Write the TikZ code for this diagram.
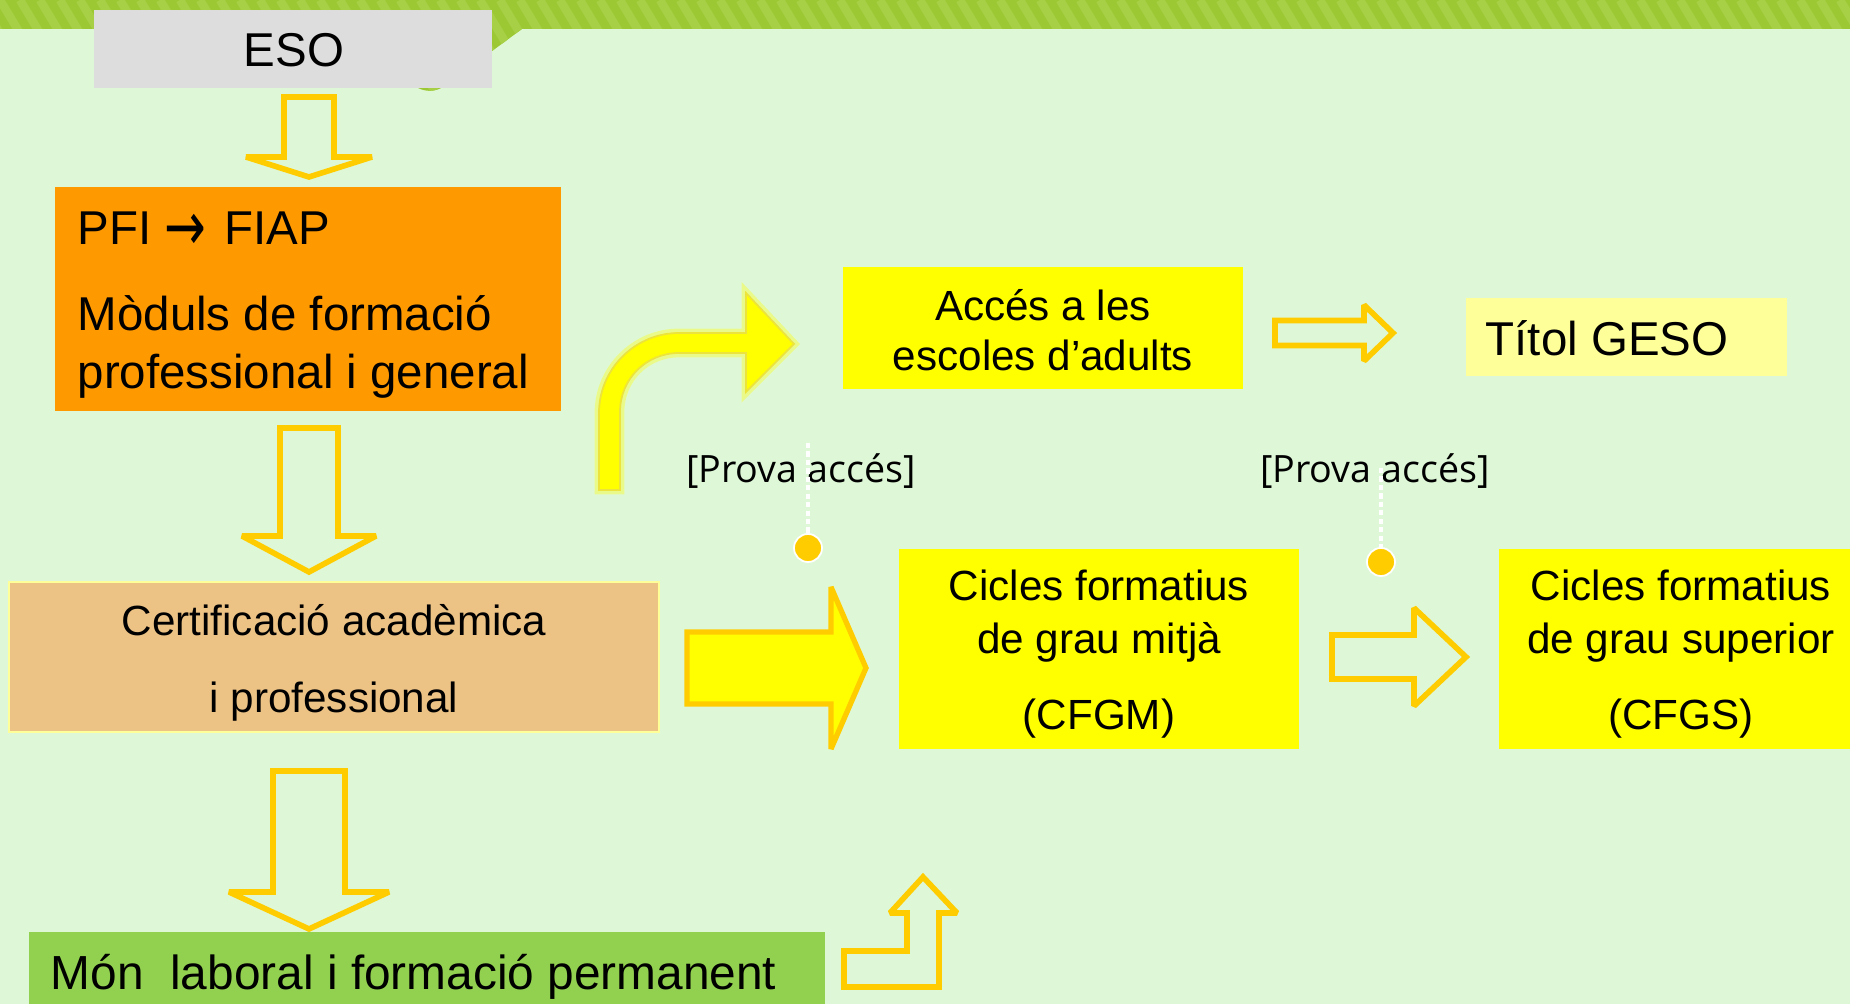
\documentclass[tikz,border=0pt]{standalone}
\usepackage{graphicx}
\usepackage{fontspec}
\setmainfont{Liberation Sans}
\newfontfamily\provafont{Open Sans}
\newfontfamily\symfont{DejaVu Sans}
\usetikzlibrary{calc, positioning}
\definecolor{fons}{RGB}{222,248,215}
\definecolor{bandfosc}{RGB}{156,200,52}
\definecolor{bandclar}{RGB}{168,208,70}
\definecolor{esogris}{RGB}{221,221,221}
\definecolor{taronja}{RGB}{255,153,0}
\definecolor{certcol}{RGB}{236,194,133}
\definecolor{certvora}{RGB}{255,255,153}
\definecolor{groc}{RGB}{255,255,0}
\definecolor{grocclar}{RGB}{255,255,153}
\definecolor{daurat}{RGB}{255,204,0}
\definecolor{verd}{RGB}{146,208,80}
\newcommand{\grantxt}{\fontsize{13.5}{16.5}\selectfont}
\newcommand{\mitjatxt}{\fontsize{12}{15.1}\selectfont}
\newcommand{\fletxa}{{\symfont\raisebox{-0.12em}{\scalebox{1.05}[1.45]{→}}}}
\newcommand{\downblock}[7]{\draw[#1] (#2-#6,#3) -- (#2+#6,#3) -- (#2+#6,#4) -- (#2+#7,#4) -- (#2,#5) -- (#2-#7,#4) -- (#2-#6,#4) -- cycle;}
\newcommand{\rightblock}[7]{\draw[#1] (#3,#2-#6) -- (#4,#2-#6) -- (#4,#2-#7) -- (#5,#2) -- (#4,#2+#7) -- (#4,#2+#6) -- (#3,#2+#6) -- cycle;}
\tikzset{
	box/.style={rectangle, inner sep=0pt},
	txt/.style={inner sep=0pt, align=center},
	hollow/.style={draw=daurat, line width=1.6pt, miter limit=2, fill=fons},
	plena/.style={draw=daurat, line width=1.5pt, miter limit=3, fill=groc},
	prova/.style={inner sep=0pt, font=\provafont\fontsize{10.7}{12}\selectfont},
	gota/.style={circle, fill=daurat, draw=white, line width=0.5pt, minimum size=0.28cm, inner sep=0pt},
	puntejat/.style={white, line width=1.1pt, dash pattern=on 1.5pt off 0.9pt}
}
\begin{document}
\begin{tikzpicture}[x=0.01cm, y=-0.01cm]
	\useasboundingbox (0,0) rectangle (1850,1004);
	\clip (0,0) rectangle (1850,1004);
	\fill[fons] (0,0) rectangle (1850,1004);
	\begin{scope}
		\clip (0,0) rectangle (1850,29) (418,29) -- (522,29) -- (446,85) .. controls (438,91) and (428,93) .. (418,88) -- cycle;
		\fill[bandfosc] (0,0) rectangle (1850,100);
		\foreach \s in {-100,-80,...,1860} {
			\draw[bandclar, line width=2.4pt] (\s,0) -- (\s+60,100);
		}
	\end{scope}

	\node[box, fill=esogris, minimum width=3.98cm, minimum height=0.78cm] (eso) at (293,49) {};
	\node[box, fill=taronja, minimum width=5.06cm, minimum height=2.24cm] (pfi) at (308,299) {};
	\node[box, fill=certcol, draw=certvora, line width=0.6pt, minimum width=6.5cm, minimum height=1.5cm] (cert) at (334,657) {};
	\node[box, fill=verd, minimum width=7.96cm, minimum height=0.8cm] (mon) at (427,972) {};
	\node[box, fill=groc, minimum width=4cm, minimum height=1.22cm] (acces) at (1043,328) {};
	\node[box, fill=grocclar, minimum width=3.21cm, minimum height=0.78cm] (titol) at (1626.5,337) {};
	\node[box, fill=groc, minimum width=4cm, minimum height=2cm] (cfgm) at (1099,649) {};
	\node[box, fill=groc, minimum width=3.64cm, minimum height=2cm] (cfgs) at (1681,649) {};

	\node[txt, font=\grantxt] (esotext) at (294,50) {ESO};
	\node[txt, align=left, anchor=west, font=\grantxt] (pfitext) at (77,305) {PFI \fletxa\hspace{0.1em} FIAP\\[8pt]Mòduls de formació\\professional i general};
	\node[txt, font=\fontsize{12}{21.9}\selectfont] (certtext) at (334,663) {Certificació acadèmica\\i professional};
	\node[txt, anchor=west, font=\fontsize{13.6}{16}\selectfont] (montext) at (50,977) {Món\ \ laboral i formació permanent};
	\node[txt, font=\fontsize{12}{14.2}\selectfont] (accestext) at (1043,330) {Accés a les\\escoles d’adults};
	\node[txt, anchor=west, font=\grantxt] (titoltext) at (1485,338) {Títol GESO};
	\node[txt, font=\mitjatxt] (cfgmtext) at (1099,654) {Cicles formatius\\de grau mitjà\\[6.5pt](CFGM)};
	\node[txt, font=\mitjatxt] (cfgstext) at (1681,654) {Cicles formatius\\de grau superior\\[6.5pt](CFGS)};

	\downblock{hollow}{309}{97}{157}{177}{25}{63}
	\downblock{hollow}{309}{428}{536}{572}{29}{67}
	\downblock{hollow}{309}{771}{892}{929}{36}{80}
	\rightblock{plena}{668}{687}{831}{866}{36}{81}
	\rightblock{hollow}{333}{1275}{1364}{1393}{12.5}{28}
	\rightblock{hollow}{657}{1332}{1414}{1466}{22}{49}
	\draw[hollow] (844,987) -- (939,987) -- (939,913) -- (957,913) -- (923,877) -- (890,913) -- (907,913) -- (907,951) -- (844,951) -- cycle;

	\draw[groc, line width=2.5pt, opacity=.35] (599,490) -- (599,413) .. controls (599,369) and (635,333) .. (679,333) -- (746,333) -- (746,293) -- (794,344) -- (746,392) -- (746,353) -- (679,353) .. controls (646,353) and (620,379) .. (620,412) -- (620,490) -- cycle;
	\filldraw[fill=groc, draw={rgb,255:red,236;green,228;blue,60}, line width=0.5pt] (599,490) -- (599,413) .. controls (599,369) and (635,333) .. (679,333) -- (746,333) -- (746,293) -- (794,344) -- (746,392) -- (746,353) -- (679,353) .. controls (646,353) and (620,379) .. (620,412) -- (620,490) -- cycle;

	\node[prova, anchor=base] (prova1) at (801,483) {[Prova accés]};
	\node[prova, anchor=base] (prova2) at (1375,483) {[Prova accés]};
	\node[gota] (dot1) at (808,548) {};
	\node[gota] (dot2) at (1381,562) {};
	\coordinate (t1) at (808,443);
	\coordinate (t2) at (1381,468);
	\draw[puntejat] (t1) -- (dot1.north);
	\draw[puntejat] (t2) -- (dot2.north);
\end{tikzpicture}
\end{document}
